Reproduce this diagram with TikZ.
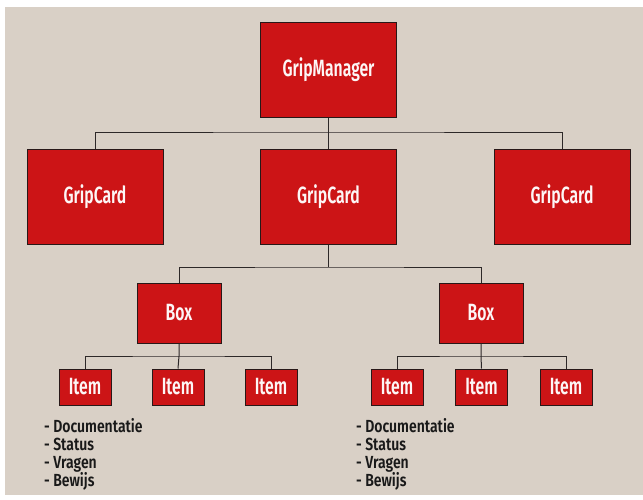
\documentclass[tikz,border=0pt]{standalone}
\usepackage{fontspec}
\setmainfont{Fira Sans}[UprightFont=* SemiBold]
\newfontfamily\blockfont{Fira Sans}[FakeStretch=0.67, UprightFont=* SemiBold]
\newfontfamily\notefont{Fira Sans}[FakeStretch=0.8, UprightFont=* SemiBold]
\usetikzlibrary{positioning}
\definecolor{paper}{RGB}{217, 208, 198}
\definecolor{gripred}{RGB}{204, 20, 22}
\definecolor{edge}{RGB}{40, 24, 24}
\definecolor{wire}{RGB}{45, 40, 40}

\begin{document}
\begin{tikzpicture}[x=1pt, y=-1pt,
    block/.style={draw=edge, line width=1pt, fill=gripred, text=white!96!gripred, inner sep=0pt,
        font=\blockfont\fontsize{23.5}{25}\selectfont},
    bigblock/.style={block, minimum width=136pt, minimum height=95pt},
    midblock/.style={block, minimum width=84pt, minimum height=60pt},
    smallblock/.style={block, minimum width=52pt, minimum height=36pt},
    wire/.style={draw=wire, line width=1pt},
    notes/.style={align=left, inner sep=0pt, text=black!90, font=\notefont\fontsize{17.5}{18.2}\selectfont}]
    % Background
    \useasboundingbox (0, 0) rectangle (643, 499);
    \fill[paper] (5, 7) rectangle (643, 495);

    % Top
    \node[bigblock] (manager) at (328.5, 69.5) {GripManager};

    % Cards
    \node[bigblock] (card1) at (95, 197) {GripCard};
    \node[bigblock] (card2) at (328.5, 197) {GripCard};
    \node[bigblock] (card3) at (562, 197) {GripCard};

    % Boxes
    \node[midblock] (box1) at (179, 313) {Box};
    \node[midblock] (box2) at (481, 313) {Box};

    % Items
    \node[smallblock] (item1) at (85, 387) {Item};
    \node[smallblock] (item2) at (178, 387) {Item};
    \node[smallblock] (item3) at (271, 387) {Item};
    \node[smallblock] (item4) at (397, 387) {Item};
    \node[smallblock] (item5) at (481.5, 387) {Item};
    \node[smallblock] (item6) at (566, 387) {Item};

    % Lists
    \node[notes, anchor=base west] (list1) at (44, 486.6) {- Documentatie\\- Status\\- Vragen\\- Bewijs};
    \node[notes, anchor=base west] (list2) at (356, 486.6) {- Documentatie\\- Status\\- Vragen\\- Bewijs};

    % Connectors
    \coordinate (bus1) at (manager.south |- 0, 132);
    \coordinate (bus2) at (card2.south |- 0, 267);
    \coordinate (bus3) at (box1.south |- 0, 356);
    \coordinate (bus4) at (box2.south |- 0, 356);
    \draw[wire] (manager.south) -- (bus1) -- (card2.north);
    \draw[wire] (card1.north) |- (bus1) -| (card3.north);
    \draw[wire] (card2.south) -- (bus2);
    \draw[wire] (box1.north) |- (bus2) -| (box2.north);
    \draw[wire] (box1.south) -- (bus3) -- (item2.north);
    \draw[wire] (item1.north) |- (bus3) -| (item3.north);
    \draw[wire] (box2.south) -- (bus4) -- (item5.north);
    \draw[wire] (item4.north) |- (bus4) -| (item6.north);
\end{tikzpicture}
\end{document}
